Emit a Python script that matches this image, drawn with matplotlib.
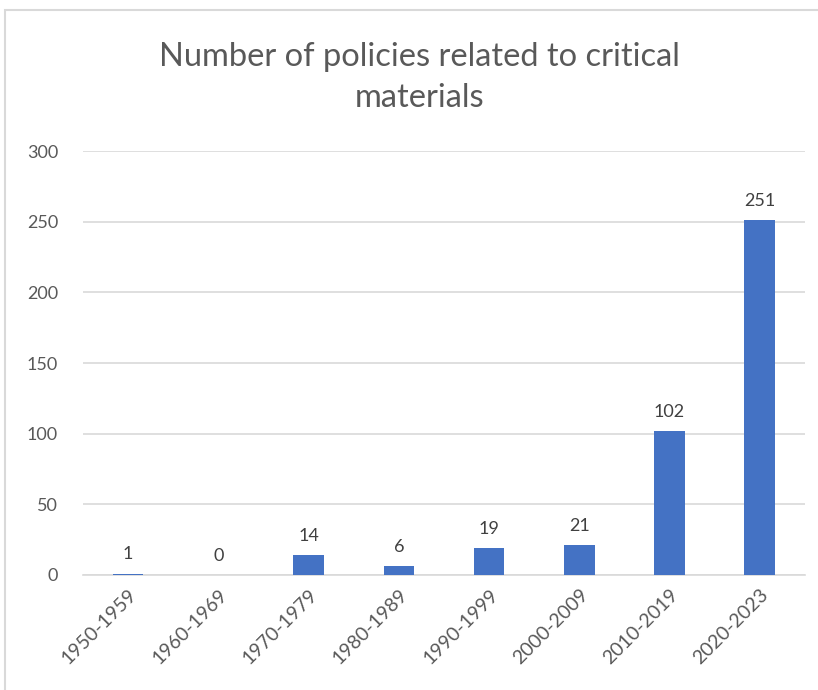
import matplotlib.pyplot as plt
from matplotlib.patches import Rectangle

# Data
decades = ['1950-1959', '1960-1969', '1970-1979', '1980-1989',
           '1990-1999', '2000-2009', '2010-2019', '2020-2023']
policies = [1, 0, 14, 6, 19, 21, 102, 251]

plt.rcParams['font.family'] = ['Lato', 'DejaVu Sans']
text_gray = '#595959'

fig = plt.figure(figsize=(8.18, 6.9), dpi=100)
ax = fig.add_axes([0.1015, 0.1667, 0.8825, 0.6143])

x = range(len(decades))
bars = ax.bar(x, policies, width=0.34, color='#4472C4', zorder=3)

for b, v in zip(bars, policies):
    ax.annotate(str(v), (b.get_x() + b.get_width() / 2, v),
                xytext=(0, 8), textcoords='offset points',
                ha='center', va='bottom', fontsize=13, color='#404040')

ax.set_ylim(0, 300)
ax.set_xlim(-0.5, len(decades) - 0.5)
ax.set_yticks(range(0, 301, 50))
ax.yaxis.grid(True, color='#d9d9d9', linewidth=1.2, zorder=0)
ax.set_xticks(list(x))
ax.set_xticklabels(decades, rotation=45, ha='right', rotation_mode='anchor')

for s in ['top', 'right', 'left']:
    ax.spines[s].set_visible(False)
ax.spines['bottom'].set_color('#d9d9d9')
ax.spines['bottom'].set_linewidth(1.2)
ax.tick_params(axis='both', length=0, colors=text_gray)
ax.tick_params(axis='y', pad=18, labelsize=13)
ax.tick_params(axis='x', pad=8, labelsize=14)

fig.text(0.513, 0.888, 'Number of policies related to critical\nmaterials',
         ha='center', va='center', fontsize=23.5, color=text_gray,
         linespacing=1.45)

# light chart-area border
fig.patches.append(Rectangle((5 / 818, -0.01), 1.0, 1 - 10 / 690 + 0.01,
                             transform=fig.transFigure, fill=False,
                             edgecolor='#d9d9d9', linewidth=1.5))

plt.savefig('out.png', dpi=100)
